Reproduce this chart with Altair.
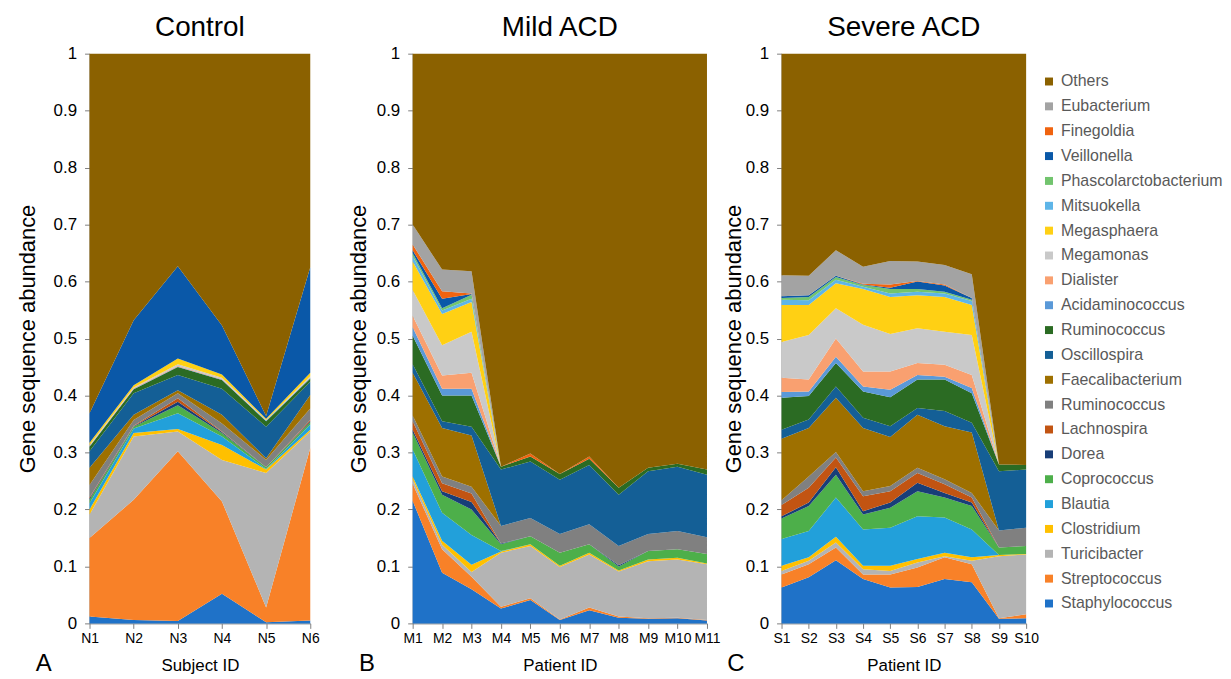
import altair as alt
import pandas as pd

# stacking order, bottom to top ("Ruminococcus " with trailing space = grey Ruminococcus)
genera = ["Staphylococcus", "Streptococcus", "Turicibacter", "Clostridium", "Blautia",
          "Coprococcus", "Dorea", "Lachnospira", "Ruminococcus ", "Faecalibacterium",
          "Oscillospira", "Ruminococcus", "Acidaminococcus", "Dialister", "Megamonas",
          "Megasphaera", "Mitsuokella", "Phascolarctobacterium", "Veillonella",
          "Finegoldia", "Eubacterium", "Others"]
colors = ["#1F72C8", "#F88128", "#B4B4B4", "#FFC000", "#22A0DA",
          "#4DAF4A", "#183E78", "#C25412", "#808080", "#9E7000",
          "#145F96", "#2B6B23", "#5A99D8", "#F9A070", "#C9C9C9",
          "#FFD014", "#5EB5E8", "#72C46E", "#0A58A8",
          "#F0630F", "#A3A3A3", "#8B6100"]

control_ids = ["N1", "N2", "N3", "N4", "N5", "N6"]
mild_ids = ["M1", "M2", "M3", "M4", "M5", "M6", "M7", "M8", "M9", "M10", "M11"]
severe_ids = ["S1", "S2", "S3", "S4", "S5", "S6", "S7", "S8", "S9", "S10"]

control = {
    "Staphylococcus": [.012, .006, .004, .052, .002, .005],
    "Streptococcus": [.138, .211, .298, .162, .026, .303],
    "Turicibacter": [.041, .111, .035, .073, .236, .029],
    "Clostridium": [.009, .006, .004, .026, .006, .003],
    "Blautia": [.011, .008, .028, .015, .001, .009],
    "Coprococcus": [.006, .003, .014, .006, .003, .004],
    "Dorea": [.002, .001, .006, .002, 0, .002],
    "Lachnospira": [.002, .001, .006, .001, 0, .002],
    "Ruminococcus ": [.022, .010, .009, .014, .013, .020],
    "Faecalibacterium": [.030, .009, .005, .015, .003, .024],
    "Oscillospira": [.029, .038, .027, .046, .055, .023],
    "Ruminococcus": [.008, .007, .014, .015, .010, .006],
    "Acidaminococcus": [.001, .001, .001, .001, .001, .001],
    "Dialister": [.001, .001, .001, .001, 0, .001],
    "Megamonas": [.001, .001, .003, .002, .001, .002],
    "Megasphaera": [.004, .004, .010, .006, .002, .006],
    "Mitsuokella": [0, 0, 0, 0, 0, 0],
    "Phascolarctobacterium": [0, 0, 0, 0, 0, 0],
    "Veillonella": [.052, .114, .162, .086, .005, .185],
    "Finegoldia": [0, 0, 0, 0, 0, 0],
    "Eubacterium": [0, 0, 0, 0, 0, 0],
    "Others": [.631, .468, .373, .477, .636, .375],
}

mild = {
    "Staphylococcus": [.215, .089, .060, .026, .041, .006, .023, .010, .008, .009, .005],
    "Streptococcus": [.030, .041, .022, .003, .003, .001, .005, .002, .001, .001, .001],
    "Turicibacter": [.008, .008, .008, .095, .092, .092, .093, .079, .100, .102, .098],
    "Clostridium": [.005, .007, .013, .002, .003, .002, .003, .002, .003, .003, .001],
    "Blautia": [.047, .049, .052, .001, 0, 0, 0, 0, 0, 0, 0],
    "Coprococcus": [.030, .032, .045, .012, .014, .023, .015, .007, .015, .015, .017],
    "Dorea": [.005, .006, .013, .001, 0, 0, 0, .002, 0, 0, 0],
    "Lachnospira": [.015, .014, .015, 0, 0, 0, 0, 0, 0, 0, 0],
    "Ruminococcus ": [.010, .012, .012, .031, .032, .033, .035, .034, .030, .032, .029],
    "Faecalibacterium": [.075, .085, .090, 0, 0, 0, 0, 0, 0, 0, 0],
    "Oscillospira": [.015, .012, .015, .099, .099, .095, .104, .090, .110, .113, .110],
    "Ruminococcus": [.050, .045, .055, .005, .009, .010, .011, .012, .006, .005, .009],
    "Acidaminococcus": [.015, .012, .012, 0, 0, 0, 0, 0, 0, 0, 0],
    "Dialister": [.020, .023, .028, 0, 0, 0, 0, 0, 0, 0, 0],
    "Megamonas": [.045, .053, .072, 0, 0, 0, 0, 0, 0, 0, 0],
    "Megasphaera": [.050, .055, .052, 0, 0, 0, 0, 0, 0, 0, 0],
    "Mitsuokella": [.010, .006, .006, 0, 0, 0, 0, 0, 0, 0, 0],
    "Phascolarctobacterium": [.005, .004, .007, 0, 0, 0, 0, 0, 0, 0, 0],
    "Veillonella": [.005, .017, .001, 0, 0, 0, 0, 0, 0, 0, 0],
    "Finegoldia": [.010, .013, .001, 0, .005, 0, .004, 0, 0, 0, 0],
    "Eubacterium": [.035, .038, .039, 0, 0, 0, 0, 0, 0, 0, 0],
    "Others": [.300, .379, .382, .725, .702, .738, .707, .762, .727, .720, .730],
}

severe = {
    "Staphylococcus": [.063, .081, .111, .078, .063, .064, .078, .072, .008, .009],
    "Streptococcus": [.023, .023, .022, .008, .023, .034, .038, .032, .001, .007],
    "Turicibacter": [.006, .006, .009, .009, .006, .009, .002, .006, .109, .105],
    "Clostridium": [.009, .006, .010, .006, .009, .006, .006, .006, .002, .001],
    "Blautia": [.047, .046, .069, .064, .067, .075, .062, .049, 0, 0],
    "Coprococcus": [.036, .044, .040, .026, .035, .044, .035, .041, .013, .014],
    "Dorea": [.004, .006, .013, .006, .009, .015, .008, .006, 0, 0],
    "Lachnospira": [.020, .026, .017, .026, .020, .017, .015, .009, 0, 0],
    "Ruminococcus ": [.008, .020, .010, .009, .009, .009, .009, .008, .030, .032],
    "Faecalibacterium": [.108, .085, .095, .111, .086, .093, .093, .106, 0, 0],
    "Oscillospira": [.016, .015, .020, .018, .019, .012, .027, .017, .104, .102],
    "Ruminococcus": [.056, .041, .041, .046, .051, .050, .055, .052, .012, .008],
    "Acidaminococcus": [.010, .008, .011, .009, .013, .008, .005, .009, 0, 0],
    "Dialister": [.025, .021, .032, .026, .032, .021, .021, .023, 0, 0],
    "Megamonas": [.063, .078, .053, .082, .066, .061, .058, .070, 0, 0],
    "Megasphaera": [.065, .053, .044, .063, .065, .058, .061, .053, 0, 0],
    "Mitsuokella": [.009, .008, .006, .004, .006, .006, .006, .007, 0, 0],
    "Phascolarctobacterium": [.003, .006, .005, .003, .008, .005, .003, .002, 0, 0],
    "Veillonella": [.003, .003, .002, .001, .002, .013, .011, .003, 0, 0],
    "Finegoldia": [0, 0, 0, .001, .006, .001, .002, 0, 0, 0],
    "Eubacterium": [.037, .034, .045, .030, .041, .034, .034, .042, 0, 0],
    "Others": [.389, .390, .345, .374, .364, .365, .371, .387, .721, .722],
}

y_ticks = [0, 0.1, 0.2, 0.3, 0.4, 0.5, 0.6, 0.7, 0.8, 0.9, 1]
FONT = "Liberation Sans"
legend_domain = genera[::-1]
legend_range = colors[::-1]


def panel(title, ids, values, xtitle, letter, width, plot_w, title_pad):
    rows = []
    for gi, g in enumerate(genera):
        for si, s in enumerate(ids):
            rows.append({"sample": s, "genus": g, "value": values[g][si], "ord": gi})
    df = pd.DataFrame(rows)
    area = alt.Chart(df).mark_area(interpolate="linear").encode(
        x=alt.X("sample:N", sort=ids,
                scale=alt.Scale(type="point", padding=0, range=[0, plot_w]),
                axis=alt.Axis(title=xtitle, labelAngle=0, labelFontSize=14,
                              titleFontSize=17, titleFontWeight="normal",
                              titlePadding=12, tickSize=5, labelPadding=3,
                              titleX=plot_w / 2,
                              domainColor="#7f7f7f", tickColor="#7f7f7f",
                              labelColor="#000000", titleColor="#000000")),
        y=alt.Y("value:Q", stack="zero",
                scale=alt.Scale(domain=[0, 1], nice=False),
                axis=alt.Axis(title="Gene sequence abundance", values=y_ticks,
                              format="~g", labelFontSize=17, titleFontSize=22,
                              titleFontWeight="normal", titlePadding=title_pad,
                              tickSize=5, labelPadding=8, grid=False,
                              domainColor="#7f7f7f", tickColor="#7f7f7f",
                              labelColor="#000000", titleColor="#000000")),
        color=alt.Color("genus:N",
                        scale=alt.Scale(domain=legend_domain, range=legend_range),
                        legend=alt.Legend(title=None, orient="none",
                                          legendX=957, legendY=20,
                                          symbolType="square", symbolSize=64,
                                          symbolStrokeWidth=0,
                                          labelFontSize=16, labelColor="#595959",
                                          labelFont=FONT, rowPadding=9,
                                          labelOffset=4, labelLimit=300)),
        order=alt.Order("ord:Q", sort="ascending"),
    )
    txt = alt.Chart(pd.DataFrame({"t": [letter]})).mark_text(
        fontSize=24, font=FONT, color="#000000", align="center", baseline="alphabetic"
    ).encode(text="t:N", x=alt.value(-46), y=alt.value(621))
    ttl = alt.Chart(pd.DataFrame({"t": [title]})).mark_text(
        fontSize=28, font=FONT, color="#000000", align="center", baseline="alphabetic"
    ).encode(text="t:N", x=alt.value(plot_w / 2), y=alt.value(-18))
    return alt.layer(area, txt, ttl).properties(width=width, height=573)


pa = panel("Control", control_ids, control, "Subject ID", "A", 250, 222, 14)
pb = panel("Mild ACD", mild_ids, mild, "Patient ID", "B", 296, 296, 6)
pc = panel("Severe ACD", severe_ids, severe, "Patient ID", "C", 246, 246, 0)

chart = alt.hconcat(pa, pb, pc, spacing=75, bounds="flush").resolve_scale(
    color="shared"
).properties(
    padding={"left": 8, "top": 4, "right": 0, "bottom": 0}
).configure(font=FONT).configure_view(stroke=None)

chart.save("out.html", embed_options={"renderer": "svg", "actions": False})
